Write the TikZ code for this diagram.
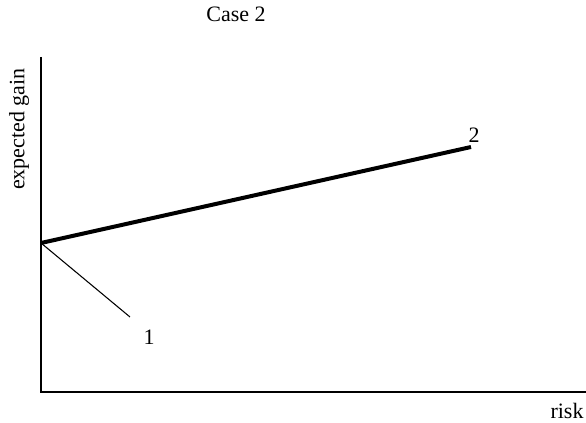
\documentclass[tikz,border=0pt]{standalone}
\usepackage{fontspec}
\setmainfont{Liberation Serif}
\begin{document}
\begin{tikzpicture}[x=0.75pt,y=-0.75pt,
  lbl/.style={font=\fontsize{16.5}{18}\selectfont, inner sep=0pt},
  axis/.style={line width=1.5pt},
  thin/.style={line width=0.8pt},
  thick/.style={line width=3pt}]
\useasboundingbox (0,0) rectangle (586,423);
\coordinate (top) at (41,57);
\coordinate (o) at (41,392);
\coordinate (xend) at (586,392);
\coordinate (s) at (41,243);
\coordinate (e1) at (130,317);
\coordinate (e2) at (471,147);
\draw[axis] (top) -- (o) -- (xend);
\draw[thin] (s) -- (e1);
\draw[thick] (s) -- (e2);
\node[lbl] (title) at (236,14) {Case 2};
\node[lbl] (risk) at (567,411) {risk};
\node[lbl, rotate=90] (yl) at (19,129) {expected gain};
\node[lbl] (l1) at (149,337) {1};
\node[lbl] (l2) at (474,135) {2};
\end{tikzpicture}
\end{document}
